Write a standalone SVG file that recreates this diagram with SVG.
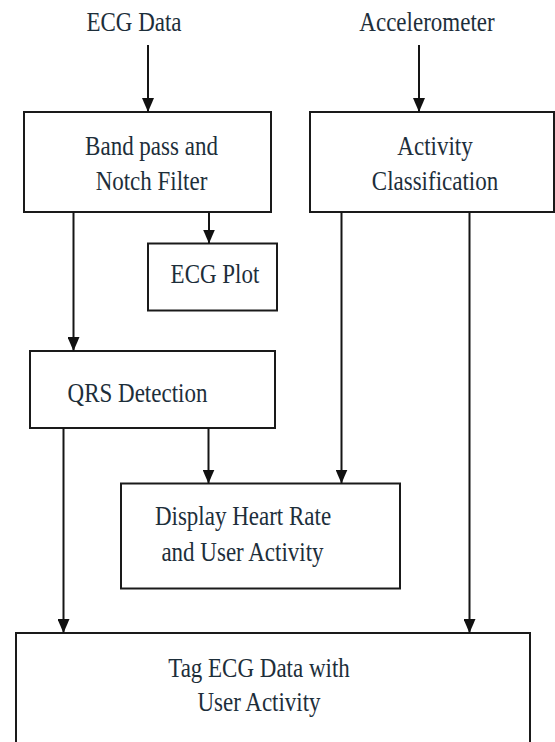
<svg xmlns="http://www.w3.org/2000/svg" width="555" height="742" viewBox="0 0 555 742">
<defs>
<marker id="arr" markerUnits="userSpaceOnUse" markerWidth="14" markerHeight="12" refX="14" refY="6" orient="auto">
<path d="M0,0 L14,6 L0,12 z" fill="#111"/>
</marker>
<style>
.box{fill:#fff;stroke:#1a1a1a;stroke-width:2}
.lbl{font-family:"Liberation Serif","Times New Roman",serif;font-size:23px;fill:#1d2e3a;text-anchor:middle}
.ln{fill:none;stroke:#151515;stroke-width:2}
.ar{fill:none;stroke:#151515;stroke-width:2;marker-end:url(#arr)}
</style>
</defs>
<rect width="555" height="742" fill="#fff"/>
<g id="src-ecg"><text class="lbl" transform="translate(134,31) scale(1,1.2)">ECG Data</text></g>
<g id="src-acc"><text class="lbl" transform="translate(427,31) scale(1,1.2)">Accelerometer</text></g>
<g id="filter"><rect class="box" x="24" y="112" width="247" height="100"/>
<text class="lbl" transform="translate(151.5,155) scale(1,1.2)">Band pass and</text>
<text class="lbl" transform="translate(151.5,190) scale(1,1.2)">Notch Filter</text></g>
<g id="activity"><rect class="box" x="310" y="112" width="244" height="100"/>
<text class="lbl" transform="translate(435,155) scale(1,1.2)">Activity</text>
<text class="lbl" transform="translate(435,190) scale(1,1.2)">Classification</text></g>
<g id="plot"><rect class="box" x="148" y="243.5" width="129" height="67"/>
<text class="lbl" transform="translate(215,283) scale(1,1.2)">ECG Plot</text></g>
<g id="qrs"><rect class="box" x="30" y="351" width="245" height="77"/>
<text class="lbl" transform="translate(137.5,401.5) scale(1,1.2)">QRS Detection</text></g>
<g id="display"><rect class="box" x="121" y="483.5" width="279" height="105"/>
<text class="lbl" transform="translate(243,525) scale(1,1.2)">Display Heart Rate</text>
<text class="lbl" transform="translate(242.5,560.5) scale(1,1.2)">and User Activity</text></g>
<g id="tag"><rect class="box" x="16" y="633" width="514" height="130"/>
<text class="lbl" transform="translate(259,677) scale(1,1.2)">Tag ECG Data with</text>
<text class="lbl" transform="translate(259,711) scale(1,1.2)">User Activity</text></g>
<g id="connectors">
<line class="ar" x1="148" y1="45" x2="148" y2="112"/>
<line class="ar" x1="419" y1="45" x2="419" y2="112"/>
<line class="ar" x1="73.5" y1="212" x2="73.5" y2="351"/>
<line class="ar" x1="209" y1="212" x2="209" y2="243.5"/>
<line class="ar" x1="208.5" y1="428" x2="208.5" y2="483.5"/>
<line class="ar" x1="341.5" y1="212" x2="341.5" y2="483.5"/>
<line class="ar" x1="63.5" y1="428" x2="63.5" y2="633"/>
<line class="ar" x1="469.5" y1="212" x2="469.5" y2="633"/>
</g>
</svg>
